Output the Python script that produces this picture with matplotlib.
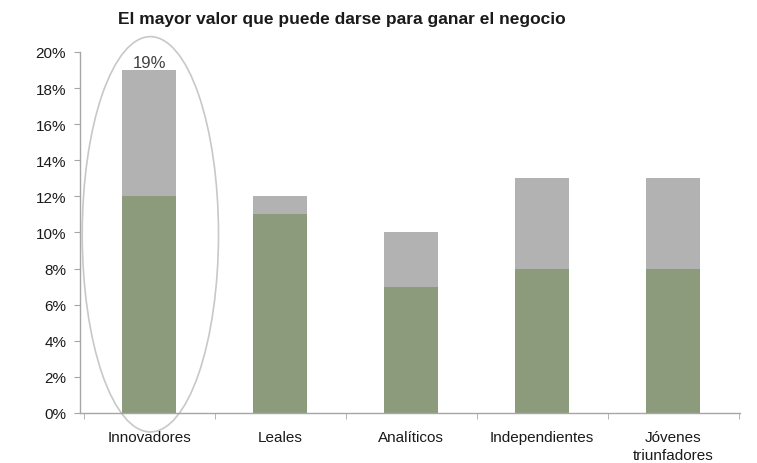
import matplotlib
matplotlib.use("Agg")
import matplotlib.pyplot as plt
from matplotlib.patches import Ellipse
from matplotlib.ticker import PercentFormatter, FixedLocator
import numpy as np

plt.rcParams["font.family"] = ["Liberation Sans", "DejaVu Sans"]

categories = ["Innovadores", "Leales", "Analíticos", "Independientes", "Jóvenes\ntriunfadores"]
base = [0.12, 0.11, 0.07, 0.08, 0.08]      # green segment
extra = [0.07, 0.01, 0.03, 0.05, 0.05]     # grey segment on top
highlight_label = "19%"

GREEN = "#8c9b7c"
GREY = "#b2b2b2"
AXIS = "#a6a6a6"

fig = plt.figure(figsize=(7.57, 4.64), dpi=100)
ax = fig.add_axes([0.1057, 0.1078, 0.8718, 0.778])

x = np.arange(len(categories))
ax.bar(x, base, width=0.41, color=GREEN)
ax.bar(x, extra, width=0.41, bottom=base, color=GREY)

total0 = base[0] + extra[0]
ax.text(x[0], total0 - 0.0002, highlight_label, ha="center", va="bottom",
        fontsize=12, color="#404040")

# outline around the first group
ax.add_patch(Ellipse((0.01, 0.099), 1.04, 0.219, fill=False,
                     edgecolor="#c8c8c8", lw=1.2, clip_on=False))

ax.set_xlim(-0.527, len(categories) - 0.49)
ax.set_ylim(0, 0.20)
ax.yaxis.set_major_locator(FixedLocator(np.arange(0, 0.201, 0.02)))
ax.yaxis.set_major_formatter(PercentFormatter(1.0, decimals=0))

ax.set_xticks(x)
ax.set_xticklabels(categories, fontsize=11, color="#1a1a1a", linespacing=1.4)
ax.tick_params(axis="x", length=0, pad=12)
ax.set_xticks(np.arange(-0.5, len(categories)), minor=True)
ax.tick_params(axis="x", which="minor", length=4, color=AXIS, direction="out")
ax.tick_params(axis="y", labelsize=11, labelcolor="#1a1a1a", length=4,
               color=AXIS, pad=6)

for s in ("top", "right"):
    ax.spines[s].set_visible(False)
for s in ("left", "bottom"):
    ax.spines[s].set_color(AXIS)
    ax.spines[s].set_linewidth(1.0)

fig.text(0.451, 0.957, "El mayor valor que puede darse para ganar el negocio",
         ha="center", va="center", fontsize=12.5, fontweight="bold", color="#1a1a1a")

fig.savefig("out.png", dpi=100, facecolor="white")
